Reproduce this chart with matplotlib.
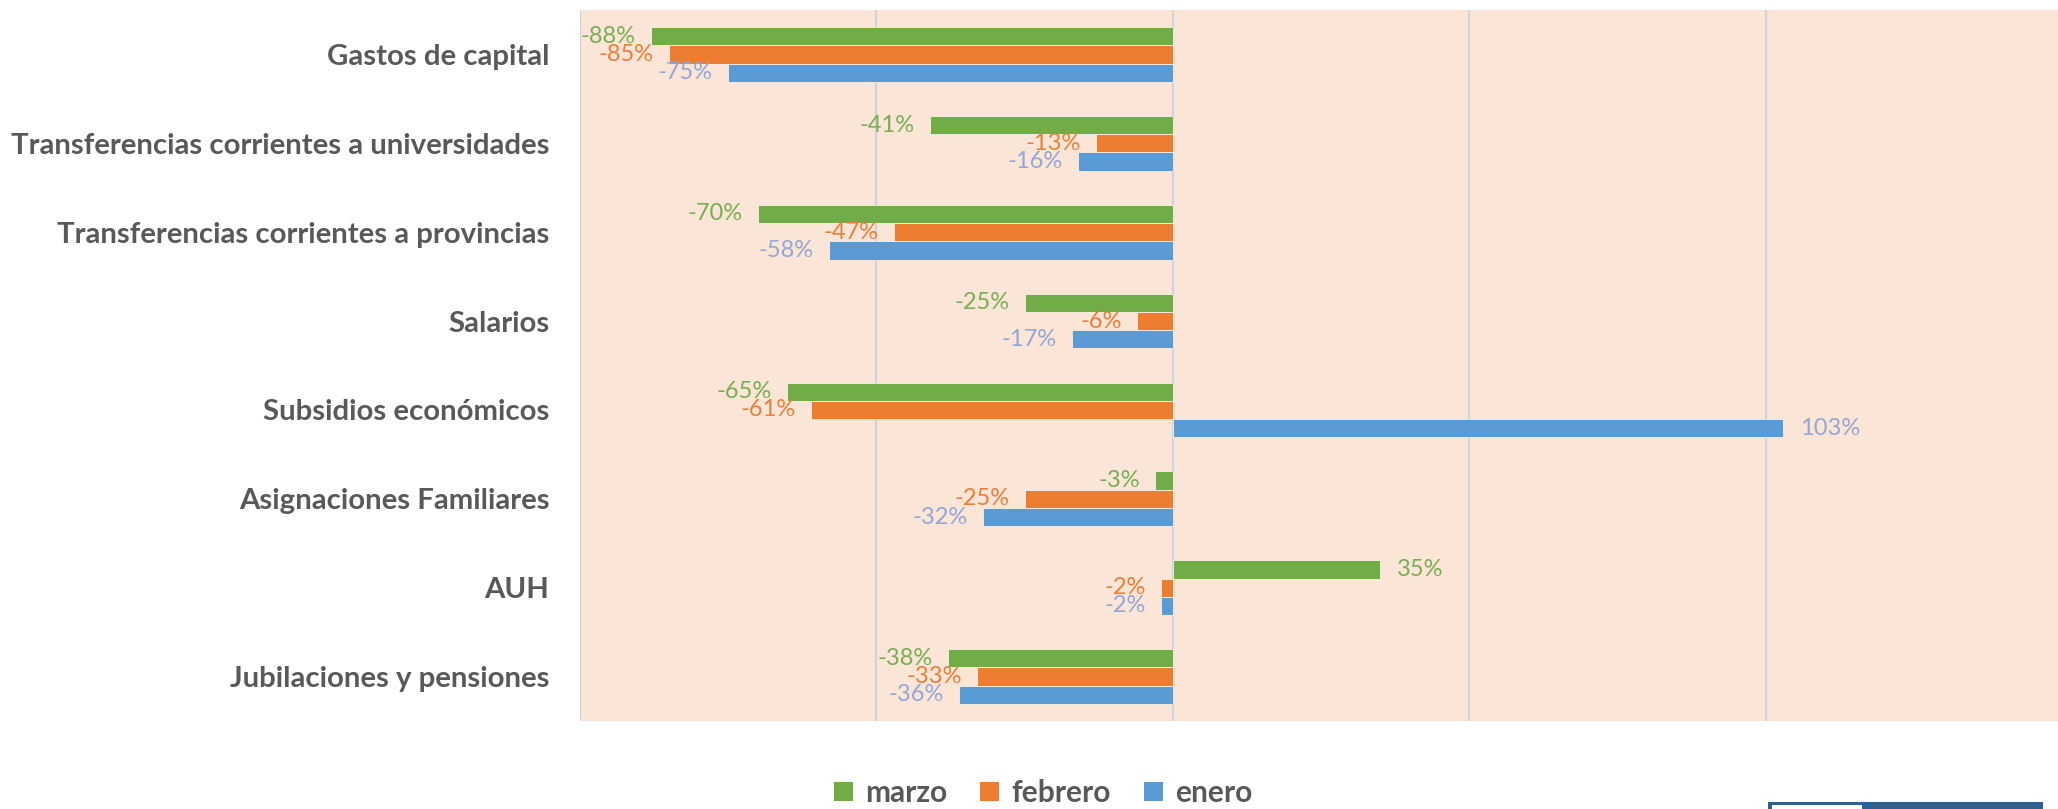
import matplotlib
matplotlib.use("Agg")
import matplotlib.pyplot as plt
import numpy as np
from matplotlib.patches import Rectangle, Patch

categories = [
    "Gastos de capital",
    "Transferencias corrientes a universidades",
    "Transferencias corrientes a provincias",
    "Salarios",
    "Subsidios económicos",
    "Asignaciones Familiares",
    "AUH",
    "Jubilaciones y pensiones",
]
marzo = [-0.88, -0.41, -0.70, -0.25, -0.65, -0.03, 0.35, -0.38]
febrero = [-0.85, -0.13, -0.47, -0.06, -0.61, -0.25, -0.02, -0.33]
enero = [-0.75, -0.16, -0.58, -0.17, 1.03, -0.32, -0.02, -0.36]

series = [("marzo", marzo, "#70AD47", "#76AE55"),
          ("febrero", febrero, "#ED7D31", "#EC7E38"),
          ("enero", enero, "#5B9BD5", "#93A6D6")]

W, H = 2058, 809
fig = plt.figure(figsize=(W / 100, H / 100), dpi=100)
ax = fig.add_axes([580 / W, 1 - 721 / H, (2062 - 580) / W, (721 - 10) / H])
ax.set_facecolor("#FBE5D6")

y = np.arange(len(categories))
bh = 0.205
for i, (name, vals, col, lcol) in enumerate(series):
    pos = y + (i - 1) * bh
    ax.barh(pos, vals, height=bh, color=col, edgecolor="#FBF0E8", linewidth=0.6, zorder=3)
    for v, p in zip(vals, pos):
        off = 12 if v > 0 else -11
        ax.annotate(f"{round(v * 100):d}%", (v, p), xytext=(off, 0), textcoords="offset points",
                    ha="left" if v > 0 else "right", va="center", fontsize=17,
                    color=lcol, family="Lato", zorder=4)

ax.set_xlim(-1.0, 1.5)
ax.set_ylim(len(categories) - 0.5, -0.5)
ax.set_xticks([-1.0, -0.5, 0.0, 0.5, 1.0])
ax.xaxis.grid(True, color="#CFD3DA", linewidth=1.6, zorder=0)
ax.tick_params(axis="x", length=0, labelbottom=False)
ax.tick_params(axis="y", length=0, pad=22)
ax.set_yticks(y)
ax.set_yticklabels(categories, fontsize=21.2, fontweight="bold", color="#595959", family="Lato")
for s in ax.spines.values():
    s.set_visible(False)

handles = [Patch(facecolor=c, label=n) for n, _, c, _ in series]
leg = fig.legend(handles=handles, loc="center", bbox_to_anchor=(1043 / W, 1 - 793 / H), ncol=3,
                 frameon=False, handlelength=0.65, handleheight=0.65, handletextpad=0.4,
                 columnspacing=1.1, prop={"family": "Lato", "weight": "bold", "size": 21.5})
for t in leg.get_texts():
    t.set_color("#595959")

# partial logo box at bottom right
fig.patches.append(Rectangle((1768 / W, 0), (2043 - 1768) / W, 7 / H, transform=fig.transFigure,
                             facecolor="#2E6092", edgecolor="none"))
fig.patches.append(Rectangle((1772 / W, 0), (1862 - 1772) / W, 4 / H, transform=fig.transFigure,
                             facecolor="white", edgecolor="none"))

fig.savefig("out.png", dpi=100)
